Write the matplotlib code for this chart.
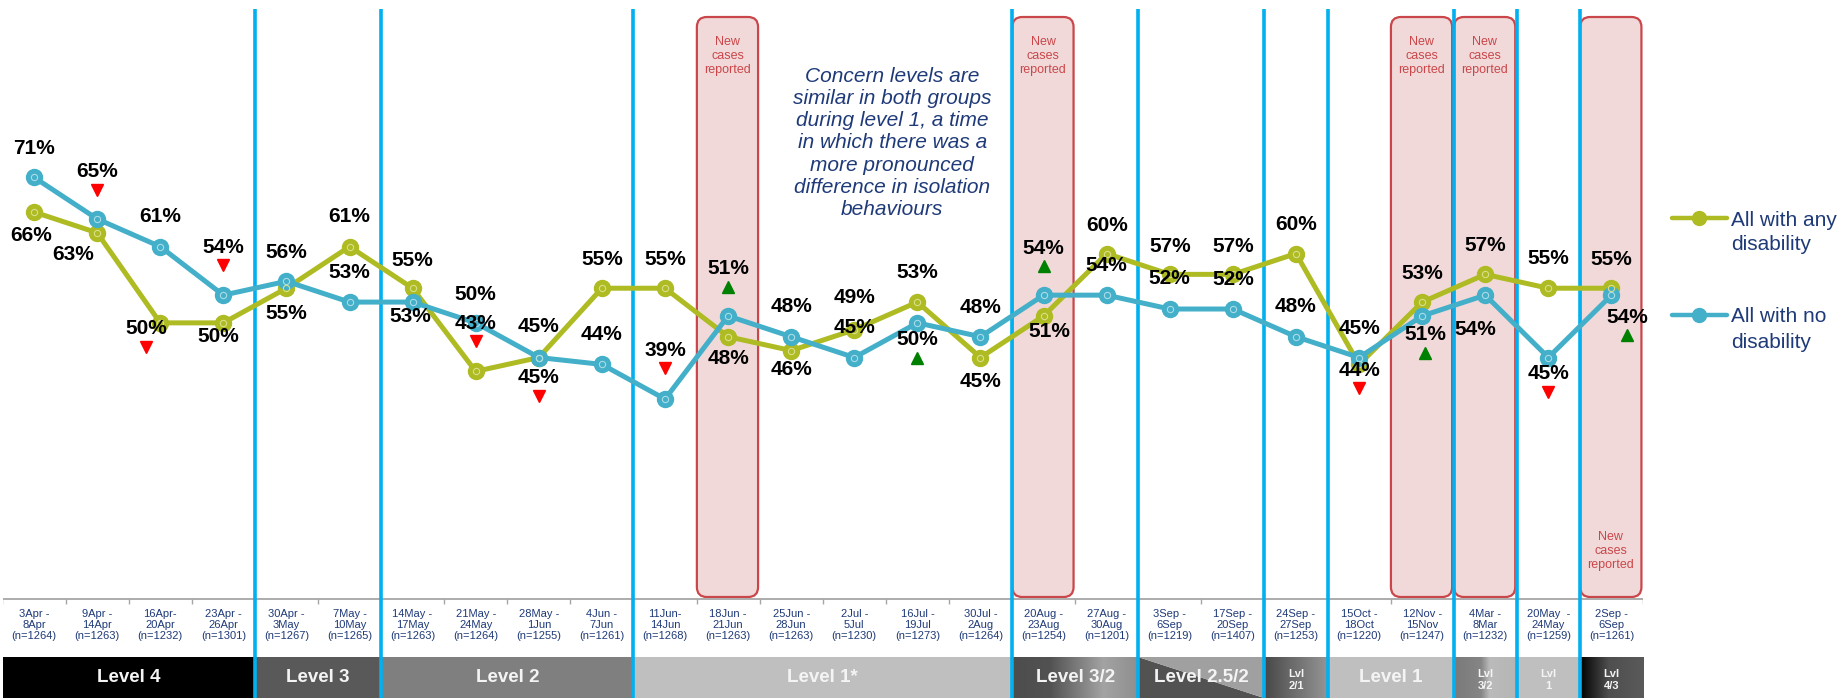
import matplotlib
matplotlib.use("Agg")
import matplotlib.pyplot as plt
import numpy as np
from matplotlib.patches import FancyBboxPatch, Rectangle, Polygon
from matplotlib.transforms import offset_copy
from matplotlib.colors import to_rgb

plt.rcParams['font.family'] = ['Liberation Sans', 'DejaVu Sans']

# ---------------- data ----------------
period_start = ["3Apr -", "9Apr -", "16Apr-", "23Apr -", "30Apr -", "7May -", "14May -",
                "21May -", "28May -", "4Jun -", "11Jun-", "18Jun -", "25Jun -", "2Jul -",
                "16Jul -", "30Jul -", "20Aug -", "27Aug -", "3Sep -", "17Sep -", "24Sep -",
                "15Oct -", "12Nov -", "4Mar -", "20May  -", "2Sep -"]
period_end = ["8Apr", "14Apr", "20Apr", "26Apr", "3May", "10May", "17May", "24May", "1Jun",
              "7Jun", "14Jun", "21Jun", "28Jun", "5Jul", "19Jul", "2Aug", "23Aug", "30Aug",
              "6Sep", "20Sep", "27Sep", "18Oct", "15Nov", "8Mar", "24May", "6Sep"]
sample_n = [1264, 1263, 1232, 1301, 1267, 1265, 1263, 1264, 1255, 1261, 1268, 1263, 1263,
            1230, 1273, 1264, 1254, 1201, 1219, 1407, 1253, 1220, 1247, 1232, 1259, 1261]

any_disability = [66, 63, 50, 50, 55, 61, 55, 43, 45, 55, 55, 48, 46, 49, 53, 45, 51, 60,
                  57, 57, 60, 44, 53, 57, 55, 55]
no_disability = [71, 65, 61, 54, 56, 53, 53, 50, 45, 44, 39, 51, 48, 45, 50, 48, 54, 54,
                 52, 52, 48, 45, 51, 54, 45, 54]
series_names = ["All with any\ndisability", "All with no\ndisability"]

# significant change vs previous wave: index -> direction
sig_any = {2: "down", 7: "down", 21: "down"}
sig_no = {1: "down", 3: "down", 8: "down", 10: "down", 11: "up", 14: "up", 16: "up",
          22: "up", 24: "down", 25: "up"}

new_case_waves = [11, 16, 22, 23, 25]
new_case_text = "New\ncases\nreported"

alert_levels = [("Level 4", 0, 3), ("Level 3", 4, 5), ("Level 2", 6, 9), ("Level 1*", 10, 15),
                ("Level 3/2", 16, 17), ("Level 2.5/2", 18, 19), ("Lvl\n2/1", 20, 20),
                ("Level 1", 21, 22), ("Lvl\n3/2", 23, 23), ("Lvl\n1", 24, 24),
                ("Lvl\n4/3", 25, 25)]
level_changes = [3.5, 5.5, 9.5, 15.5, 17.5, 19.5, 20.5, 22.5, 23.5, 24.5]

note = ("Concern levels are\nsimilar in both groups\nduring level 1, a time\n"
        "in which there was a\nmore pronounced\ndifference in isolation\nbehaviours")

# ---------------- styling ----------------
GREEN = "#AEBB22"
BLUE = "#43AFC9"
NAVY = "#1F3A78"
VLINE = "#00B0F0"
BOX_FACE = "#F2D9D9"
BOX_EDGE = "#C9474A"
RED_TRI = "#FF0000"
GREEN_TRI = "#008000"

# label offsets in pixels (dx, dy; dy>0 is upwards)
off_any = [(-3, -23), (-24, -22), (-14, -6), (-5, -14), (0, -25), (0, 30), (0, 28), (0, 48),
           (0, 31), (0, 29), (0, 29), (0, -22), (0, -19), (0, 32), (0, 30), (0, -24),
           (6, -16), (0, 28), (0, 28), (0, 28), (0, 29), (0, -6), (0, 29), (0, 29),
           (0, 30), (0, 29)]
off_no = [(0, 29), (0, 47), (0, 30), (0, 48), (0, 29), (0, 30), (-2, -14), (0, 28), (0, -20),
          (0, 30), (0, 49), (0, 47), (0, 30), (0, 30), (0, -17), (0, 29), (0, 47), (0, 30),
          (0, 31), (0, 30), (0, 30), (0, 29), (3, -19), (-10, -34), (0, -16), (16, -22)]

band_solid = {"Level 4": "#000000", "Level 3": "#595959", "Level 2": "#7F7F7F",
              "Level 1*": "#BFBFBF", "Level 1": "#BFBFBF", "Lvl\n1": "#BFBFBF"}
band_gradient = {
    "Level 3/2": [(0, "#4D4D4D"), (0.3, "#525252"), (0.72, "#A3A3A3"), (1, "#8E8E8E")],
    "Lvl\n2/1": [(0, "#474747"), (0.4, "#686868"), (1, "#959595")],
    "Lvl\n3/2": [(0, "#7A7A7A"), (0.42, "#858585"), (0.56, "#BBBBBB"), (1, "#B5B5B5")],
    "Lvl\n4/3": [(0, "#000000"), (0.45, "#4F4F4F"), (1, "#5A5A5A")],
}

W, H = 1843, 698
fig = plt.figure(figsize=(W / 100, H / 100), dpi=100)
left, width = 2.5 / W, 1640.5 / W
n_cat = len(period_start)
x = np.arange(n_cat)

# background axes: x in categories, y in pixels from the top
ax_bg = fig.add_axes([left, 0, width, 1], zorder=0)
ax_bg.set_xlim(-0.5, n_cat - 0.5)
ax_bg.set_ylim(H, 0)
ax_bg.axis("off")
ppx = width * W / n_cat  # pixels per category

# "new cases reported" boxes
for i in new_case_waves:
    box = FancyBboxPatch((i - 0.495, 17), 0.97, 580,
                         boxstyle=f"round,pad=0,rounding_size={10 / ppx}",
                         mutation_aspect=ppx, facecolor=BOX_FACE, edgecolor=BOX_EDGE,
                         linewidth=1.6, zorder=1)
    ax_bg.add_patch(box)
    ty = 551 if i == n_cat - 1 else 56
    ax_bg.text(i - 0.01, ty, new_case_text, ha="center", va="center", fontsize=9,
               color="#C9474A", linespacing=1.25, zorder=2)

# note
ax_bg.text(13.6, 143, note, ha="center", va="center", fontsize=15, style="italic",
           color=NAVY, linespacing=1.21, zorder=2)

# category axis line and ticks
ax_bg.hlines(599, -0.5, n_cat - 0.5, color="#A6A6A6", lw=1.3, zorder=2)
ax_bg.vlines(np.arange(-0.5, n_cat), 599, 604, color="#A6A6A6", lw=1.0, zorder=2)

# category labels
for i in x:
    ax_bg.text(i, 625, f"{period_start[i]}\n{period_end[i]}\n(n={sample_n[i]})",
               ha="center", va="center", fontsize=8, color=NAVY, linespacing=1.17)

# alert level band
BT, BB = 657, 698
for name, a, b in alert_levels:
    x0, x1 = a - 0.5, b + 0.5
    if name in band_solid:
        ax_bg.add_patch(Rectangle((x0, BT), x1 - x0, BB - BT, facecolor=band_solid[name],
                                  edgecolor="none", zorder=1))
    elif name in band_gradient:
        stops = band_gradient[name]
        pos = [s[0] for s in stops]
        cols = np.array([to_rgb(s[1]) for s in stops])
        t = np.linspace(0, 1, 200)
        row = np.stack([np.interp(t, pos, cols[:, k]) for k in range(3)], axis=-1)
        ax_bg.imshow(row[None, :, :], extent=(x0, x1, BB, BT), aspect="auto",
                     interpolation="bilinear", zorder=1)
    else:
        ax_bg.add_patch(Polygon([(x0, BT), (x0, BB), (x1, BB)], closed=True,
                                facecolor="#525252", edgecolor="none", zorder=1))
        ax_bg.add_patch(Polygon([(x0, BT), (x1, BT), (x1, BB)], closed=True,
                                facecolor="#A0A0A0", edgecolor="none", zorder=1))
    small = "\n" in name
    ax_bg.text((a + b) / 2, 680 if small else 678, name, ha="center", va="center",
               fontsize=8 if small else 13.5, fontweight="bold",
               color="#F4F4F4", linespacing=1.35, zorder=3)
ax_bg.set_xlim(-0.5, n_cat - 0.5)
ax_bg.set_ylim(H, 0)

# alert level change lines
ax_bg.vlines(level_changes, 9, H, colors=VLINE, lw=2.6, zorder=4)

# data axes
ax = fig.add_axes([left, 98 / H, width, 600 / H], zorder=2)
ax.set_xlim(-0.5, n_cat - 0.5)
ax.set_ylim(10.0, 96.6)
ax.axis("off")

for vals, col, ring in [(any_disability, GREEN, "#D9E08A"), (no_disability, BLUE, "#A9DCE8")]:
    ax.plot(x, vals, color=col, lw=3.6, marker="o", ms=11.5, mfc=col, mec=col,
            solid_capstyle="round", zorder=3)
    ax.plot(x, vals, ls="none", marker="o", ms=4.5, mfc="none", mec=ring, mew=0.8, zorder=4)

for vals, offs, sig in [(any_disability, off_any, sig_any), (no_disability, off_no, sig_no)]:
    for i, v in enumerate(vals):
        dx, dy = offs[i]
        ax.annotate(f"{v}%", (i, v), xytext=(dx, dy), textcoords="offset pixels",
                    ha="center", va="center", fontsize=15, fontweight="bold",
                    color="black", zorder=6)
        if i in sig:
            tr = offset_copy(ax.transData, fig=fig, x=dx, y=dy - 18, units="dots")
            up = sig[i] == "up"
            ax.plot(i, v, transform=tr, marker="^" if up else "v", ms=8.5, ls="none",
                    color=GREEN_TRI if up else RED_TRI, zorder=6, clip_on=False)

# legend
ax_leg = fig.add_axes([0, 0, 1, 1], zorder=3)
ax_leg.set_xlim(0, W)
ax_leg.set_ylim(H, 0)
ax_leg.axis("off")
for (ly, col, name) in [(218, GREEN, series_names[0]), (315, BLUE, series_names[1])]:
    ax_leg.plot([1672, 1727], [ly, ly], color=col, lw=3.2, solid_capstyle="round")
    ax_leg.plot([1699], [ly], marker="o", ms=10, color=col)
    first, second = name.split("\n")
    ax_leg.text(1731, ly, first, ha="left", va="center_baseline", fontsize=15, color=NAVY)
    ax_leg.text(1731, ly + 25, second, ha="left", va="center_baseline", fontsize=15,
                color=NAVY)

fig.savefig("out.png", dpi=100)
